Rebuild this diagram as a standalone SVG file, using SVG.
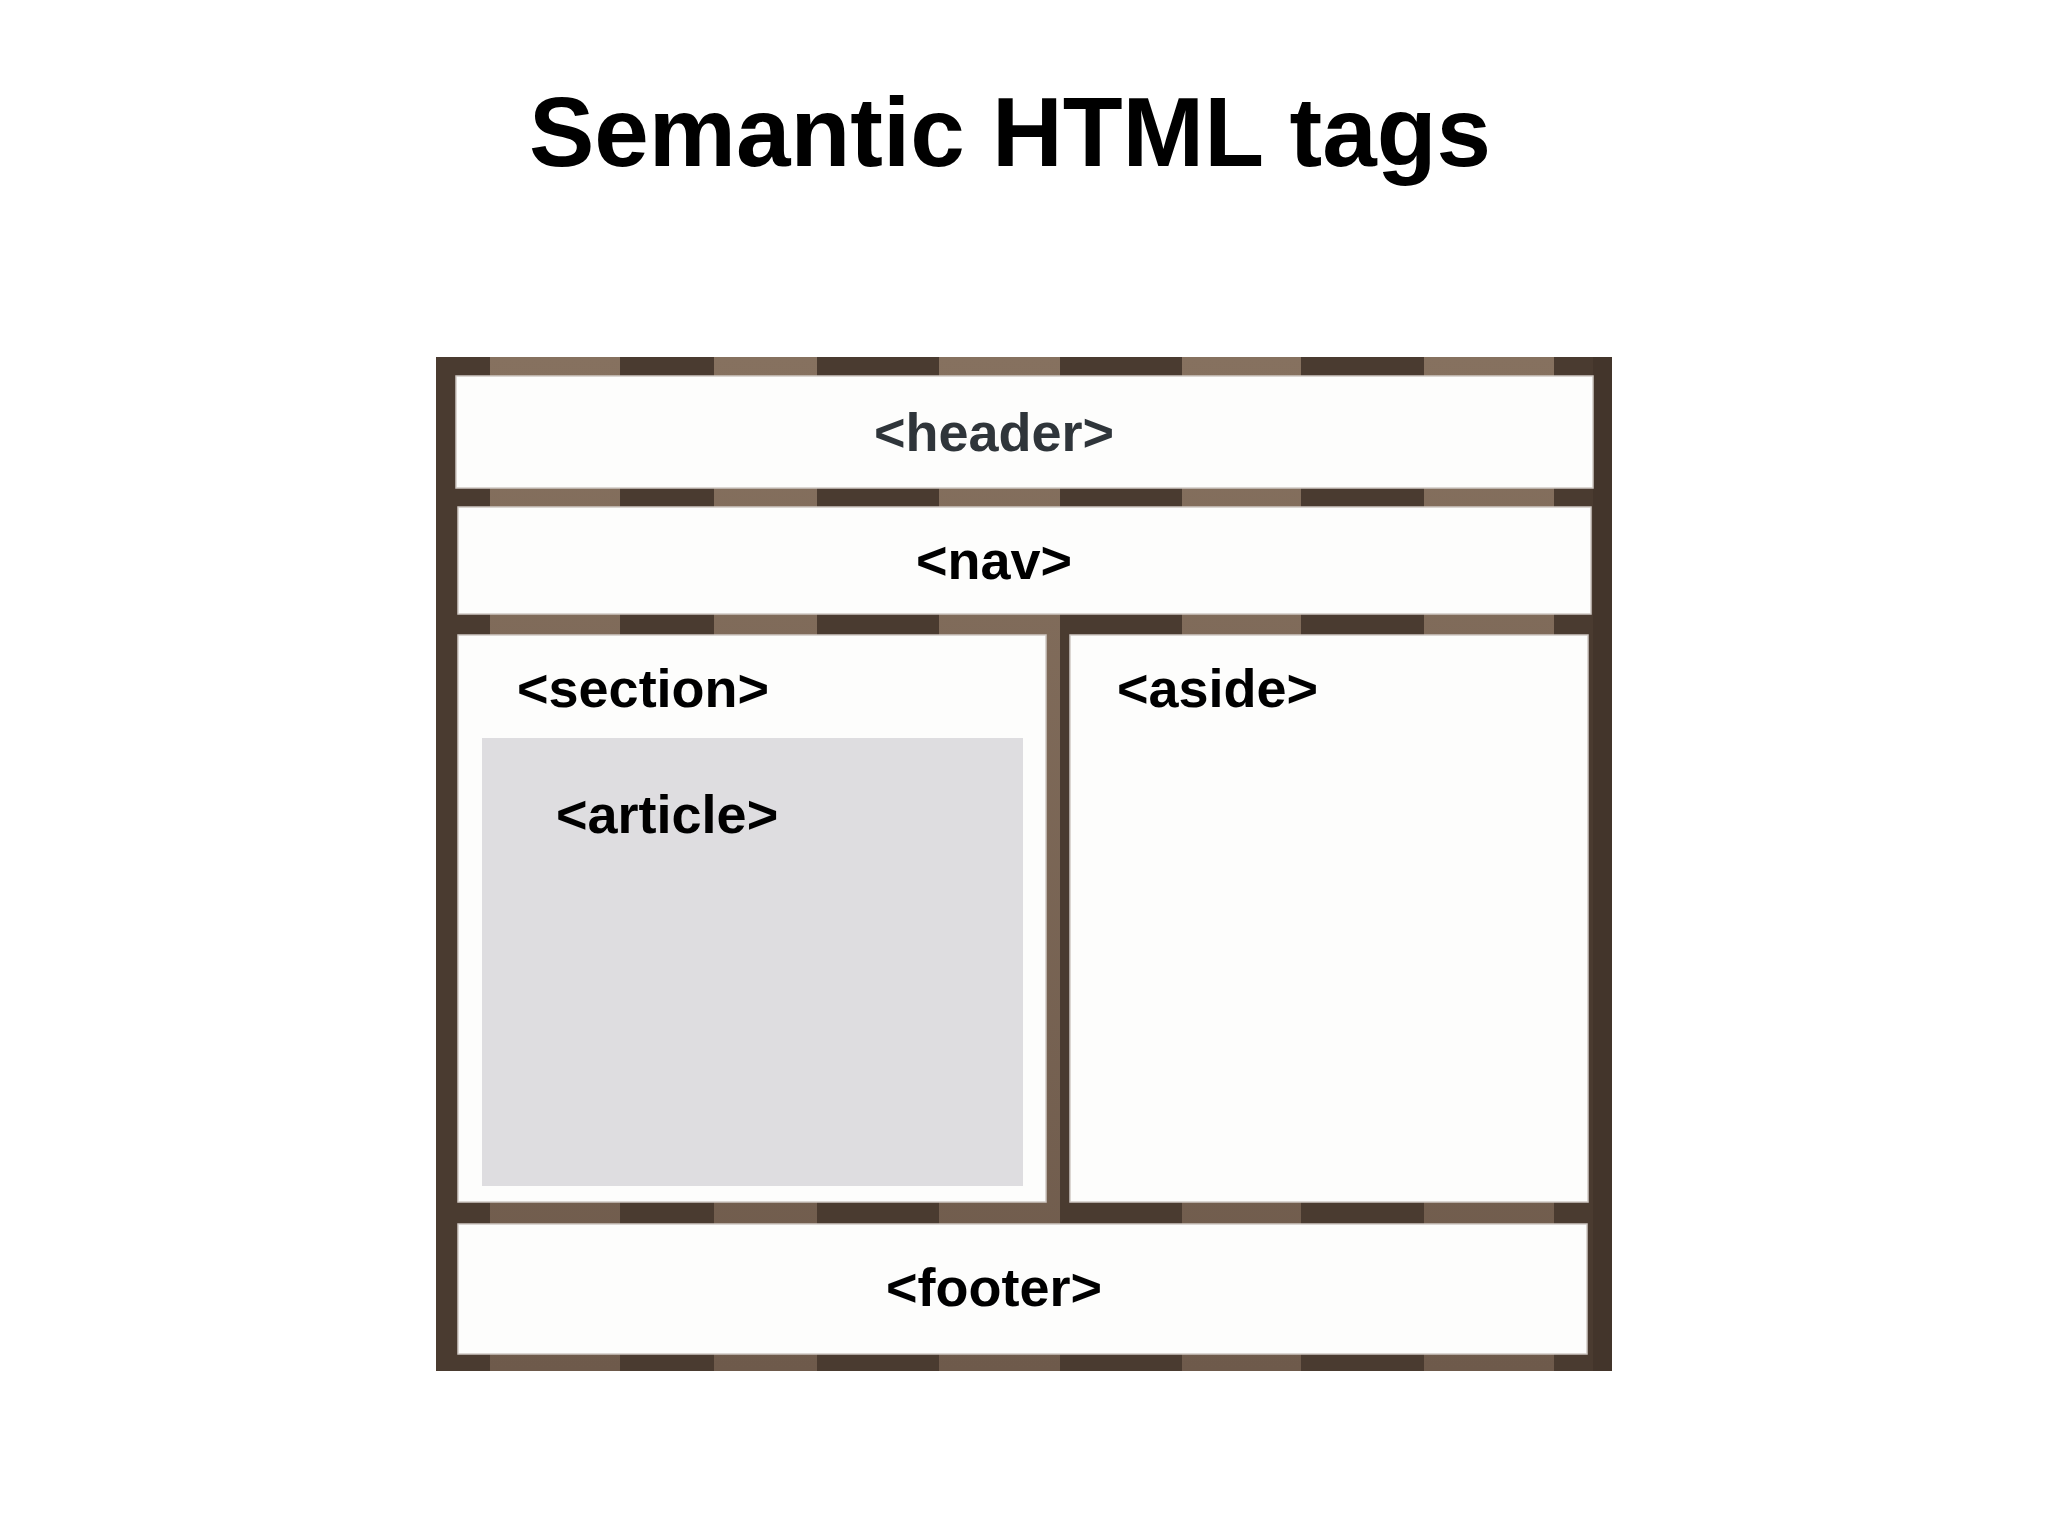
<svg xmlns="http://www.w3.org/2000/svg" width="2048" height="1536" viewBox="0 0 2048 1536">
  <defs>
    <style>
      .title { font-family: "Liberation Sans", Arial, sans-serif; font-weight: bold; font-size: 98px; fill: #000; }
      .lbl { font-family: "Liberation Sans", Arial, sans-serif; font-weight: bold; font-size: 54px; fill: #000; }
      .box { fill: #fdfdfc; stroke: #cfc9c4; stroke-width: 1.5; }
      .stripe { fill: url(#lightStripe); }
    </style>
    <linearGradient id="lightStripe" x1="0" y1="0" x2="0" y2="1">
      <stop offset="0" stop-color="#86715f"/>
      <stop offset="1" stop-color="#6e5a4b"/>
    </linearGradient>
  </defs>
  <rect width="2048" height="1536" fill="#ffffff"/>

  <text class="title" x="1010" y="166" text-anchor="middle">Semantic HTML tags</text>

  <g id="frame">
    <rect x="436" y="357" width="1176" height="1014" fill="#4a3b30"/>
    <rect class="stripe" x="490" y="357" width="130" height="1014"/>
    <rect class="stripe" x="714" y="357" width="103" height="1014"/>
    <rect class="stripe" x="939" y="357" width="121" height="1014"/>
    <rect class="stripe" x="1182" y="357" width="119" height="1014"/>
    <rect class="stripe" x="1424" y="357" width="130" height="1014"/>
    <rect x="436" y="357" width="20" height="1014" fill="#4a3b30"/>
    <rect x="1593" y="357" width="19" height="1014" fill="#43352b"/>
  </g>

  <g id="header">
    <rect class="box" x="456" y="376" width="1137" height="112"/>
    <text class="lbl" x="994" y="451" text-anchor="middle" style="fill:#2f353a">&lt;header&gt;</text>
  </g>

  <g id="nav">
    <rect class="box" x="458" y="507" width="1133" height="107"/>
    <text class="lbl" x="994" y="579" text-anchor="middle">&lt;nav&gt;</text>
  </g>

  <g id="section">
    <rect class="box" x="458" y="635" width="588" height="567"/>
    <text class="lbl" x="517" y="707">&lt;section&gt;</text>
  </g>

  <g id="article">
    <rect x="482" y="738" width="541" height="448" fill="#dedde0"/>
    <text class="lbl" x="556" y="833">&lt;article&gt;</text>
  </g>

  <g id="aside">
    <rect class="box" x="1070" y="635" width="518" height="567"/>
    <text class="lbl" x="1117" y="707">&lt;aside&gt;</text>
  </g>

  <g id="footer">
    <rect class="box" x="458" y="1224" width="1129" height="130"/>
    <text class="lbl" x="994" y="1306" text-anchor="middle">&lt;footer&gt;</text>
  </g>

  <g id="connectors"/>
</svg>
